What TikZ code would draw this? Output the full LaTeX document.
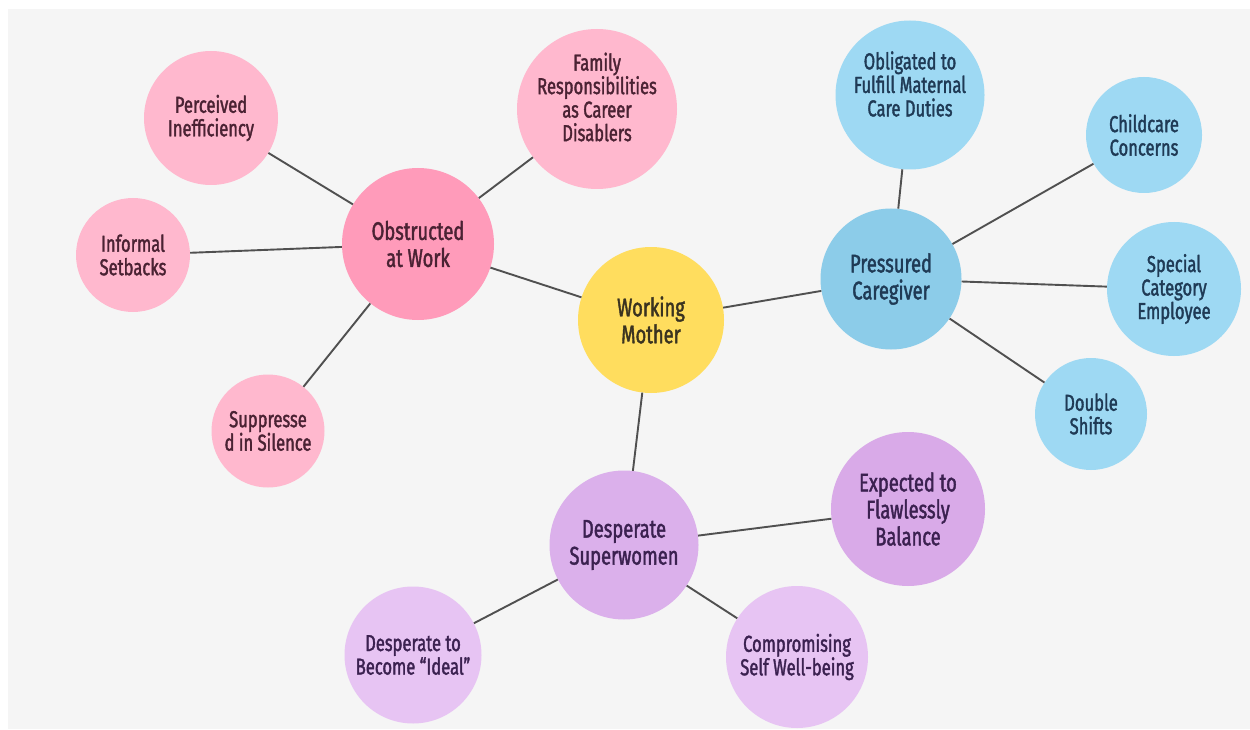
\documentclass[tikz,border=0pt]{standalone}
\usepackage{fontspec}
\setmainfont{Fira Sans}[FakeStretch=0.72,FakeBold=1.6]
\definecolor{bg}{HTML}{F5F5F5}
\definecolor{linec}{HTML}{505050}
\definecolor{wmfill}{HTML}{FFDD5E}
\definecolor{wmtext}{HTML}{3A3320}
\definecolor{pinkmain}{HTML}{FF9BBA}
\definecolor{pinkleaf}{HTML}{FFB8CE}
\definecolor{pinktext}{HTML}{4A2233}
\definecolor{bluemain}{HTML}{8CCCE9}
\definecolor{blueleaf}{HTML}{9ED9F3}
\definecolor{bluetext}{HTML}{1F3A55}
\definecolor{purpmain}{HTML}{DBB0EB}
\definecolor{purpmid}{HTML}{D9AAE8}
\definecolor{purpleaf}{HTML}{E7C4F3}
\definecolor{purptext}{HTML}{3B2150}
\tikzset{
  bubble/.style={circle,inner sep=0pt,draw=none,align=center},
  mainfont/.style={font=\fontsize{25.5}{27}\selectfont},
  leaffont/.style={font=\fontsize{23}{23.5}\selectfont},
  link/.style={draw=linec,line width=1.9pt}
}
\begin{document}
\begin{tikzpicture}[x=1pt,y=-1pt]
\useasboundingbox (0,0) rectangle (1250,730);
\fill[white] (0,0) rectangle (1250,730);
\fill[bg] (8,9) rectangle (1250,729);

% centre
\node[bubble,mainfont,fill=wmfill,text=wmtext,minimum size=146pt] (wm) at (651,320) {Working\\Mother};

% pink group
\node[bubble,mainfont,fill=pinkmain,text=pinktext,minimum size=152pt] (obs) at (418,244) {Obstructed\\at Work};
\node[bubble,leaffont,fill=pinkleaf,text=pinktext,minimum size=134pt] (per) at (211,118) {Perceived\\Inefficiency};
\node[bubble,leaffont,fill=pinkleaf,text=pinktext,minimum size=114pt] (inf) at (133,255) {Informal\\Setbacks};
\node[bubble,leaffont,fill=pinkleaf,text=pinktext,minimum size=113pt] (sup) at (268,431) {Suppresse\\d in Silence};
\node[bubble,fill=pinkleaf,minimum size=160pt] (fam) at (597,109) {};
\node[leaffont,align=center,text=pinktext,inner sep=0pt] (famt) at (597,97) {Family\\Responsibilities\\as Career\\Disablers};

% blue group
\node[bubble,mainfont,fill=bluemain,text=bluetext,minimum size=141pt] (pre) at (891,279) {Pressured\\Caregiver};
\node[bubble,fill=blueleaf,minimum size=149pt] (obl) at (910,95) {};
\node[leaffont,align=center,text=bluetext,inner sep=0pt] (oblt) at (910,84) {Obligated to\\Fulfill Maternal\\Care Duties};
\node[bubble,leaffont,fill=blueleaf,text=bluetext,minimum size=116pt] (chi) at (1144,135) {Childcare\\Concerns};
\node[bubble,leaffont,fill=blueleaf,text=bluetext,minimum size=134pt] (spe) at (1174,289) {Special\\Category\\Employee};
\node[bubble,leaffont,fill=blueleaf,text=bluetext,minimum size=112pt] (dou) at (1091,414) {Double\\Shifts};

% purple group
\node[bubble,mainfont,fill=purpmain,text=purptext,minimum size=149pt] (des) at (624,545) {Desperate\\Superwomen};
\node[bubble,mainfont,fill=purpmid,text=purptext,minimum size=154pt] (exp) at (908,509) {Expected to\\Flawlessly\\Balance};
\node[bubble,leaffont,fill=purpleaf,text=purptext,minimum size=137pt] (ide) at (413,655) {Desperate to\\Become “Ideal”};
\node[bubble,leaffont,fill=purpleaf,text=purptext,minimum size=142pt] (com) at (797,657) {Compromising\\Self Well-being};

% connectors
\draw[link] (wm) -- (obs);
\draw[link] (wm) -- (pre);
\draw[link] (wm) -- (des);
\draw[link] (obs) -- (per);
\draw[link] (obs) -- (inf);
\draw[link] (obs) -- (sup);
\draw[link] (obs) -- (fam);
\draw[link] (pre) -- (obl);
\draw[link] (pre) -- (chi);
\draw[link] (pre) -- (spe);
\draw[link] (pre) -- (dou);
\draw[link] (des) -- (exp);
\draw[link] (des) -- (ide);
\draw[link] (des) -- (com);
\end{tikzpicture}
\end{document}
